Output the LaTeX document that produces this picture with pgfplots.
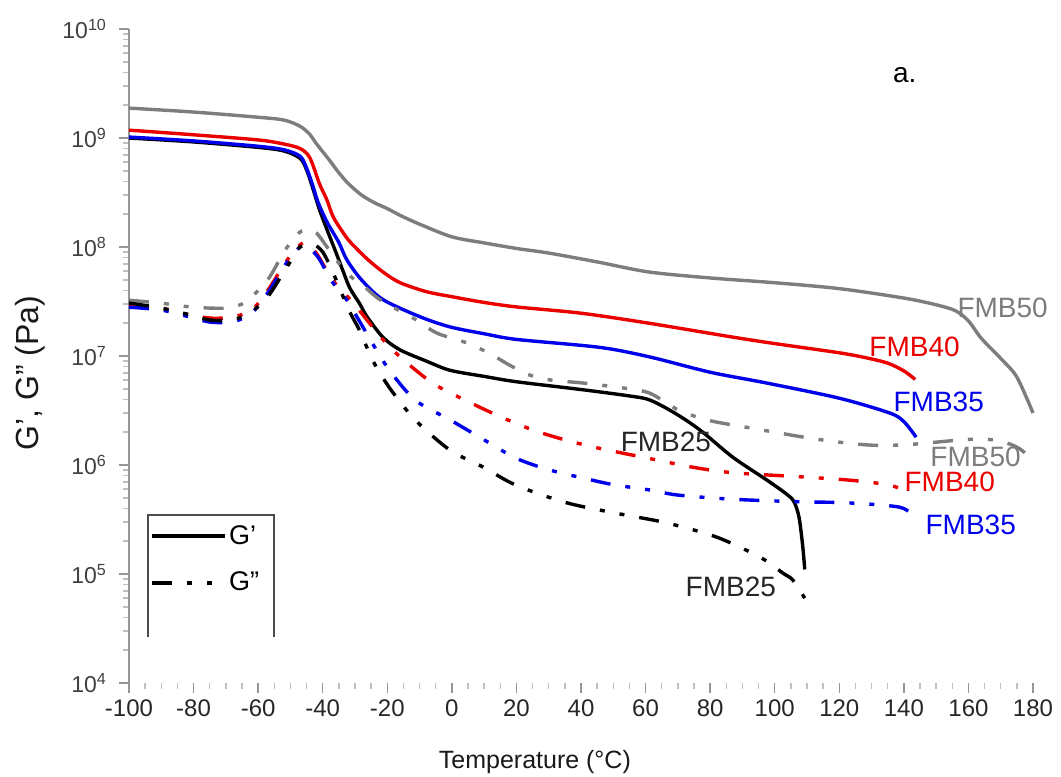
\documentclass[border=0pt]{standalone}
\usepackage{fontspec}
\setmainfont{Liberation Sans}
\usepackage{pgfplots}
\pgfplotsset{compat=1.18}
\definecolor{cgray}{RGB}{125,125,125}
\definecolor{cred}{RGB}{235,0,0}
\definecolor{cblue}{RGB}{0,0,235}
\definecolor{axgray}{RGB}{150,150,150}
\tikzset{gpp/.style={dash pattern=on 10pt off 7.5pt on 2.5pt off 7.5pt on 2.5pt off 7.5pt}}
\begin{document}
\begin{tikzpicture}
\begin{axis}[
  scale only axis, width=452pt, height=327pt,
  xmin=-100, xmax=180, ymin=1e4, ymax=1e10, ymode=log,
  clip=false,
  axis x line*=bottom, axis y line*=left,
  axis line style={-, draw=axgray, line width=0.9pt},
  x axis line style={draw=none},
  tick align=outside,
  xtick={-100,-80,...,180},
  xticklabels={-100,-80,-60,-40,-20,0,20,40,60,80,100,120,140,160,180},
  minor x tick num=3,
  ytick={1e4,1e5,1e6,1e7,1e8,1e9,1e10},
  yticklabels={10\textsuperscript{4},10\textsuperscript{5},10\textsuperscript{6},10\textsuperscript{7},10\textsuperscript{8},10\textsuperscript{9},10\textsuperscript{10}},
  major tick length=5pt, minor tick length=3pt,
  tick style={draw=axgray, line width=0.7pt},
  minor tick style={draw=axgray!60},
  xticklabel style={font=\fontsize{12}{14}\selectfont, text=black!85},
  yticklabel style={font=\fontsize{11.5}{13}\selectfont, text=black!75, xshift=-2.5pt},
  xlabel={Temperature (°C)},
  xlabel style={at={(rel axis cs:0.449,0)}, yshift=-39.5pt, anchor=center, font=\fontsize{12.5}{15}\selectfont, text=black!90},
  ylabel={G', G'' (Pa)},
  ylabel style={at={([xshift=-49.5pt]rel axis cs:0,0.474)}, anchor=center, font=\fontsize{16}{18}\selectfont, text=black!90},
  legend style={at={(rel axis cs:0.023,0.245)}, anchor=north west, draw=none, fill=none,
    font=\fontsize{13.5}{15}\selectfont, inner sep=0pt, row sep=10.5pt, nodes={inner sep=1pt}},
  legend cell align=left,
  legend image code/.code={\draw[#1, line width=2pt] (0pt,0pt) -- (36.5pt,0pt);},
  every axis plot/.append style={line width=1.7pt, smooth, tension=0.5},
]
\addlegendimage{black}
\addlegendentry{G'}
\addlegendimage{black, gpp}
\addlegendentry{G''}

% FMB25 G'
\addplot[black, forget plot] coordinates {(-100,1.0e9) (-80,9.2e8) (-60,8.2e8) (-52,7.6e8) (-47,6.5e8) (-45,5.1e8) (-43,3.4e8) (-41,2.2e8) (-38.5,1.4e8) (-36.2,9.4e7) (-33.5,5.8e7) (-31.6,4.2e7) (-28.5,3.0e7) (-26.3,2.3e7) (-21.4,1.49e7) (-16.1,1.14e7) (-8,9.0e6) (-0.6,7.4e6) (10,6.5e6) (20.1,5.8e6) (40.6,4.9e6) (55,4.3e6) (61.3,3.95e6) (69,3.0e6) (76.8,2.1e6) (87,1.18e6) (97.5,7.3e5) (103,5.6e5) (105.6,4.8e5) (106.8,4.0e5) (107.7,3.1e5) (108.7,1.77e5) (109.3,1.1e5)};
% FMB50 G'
\addplot[cgray, forget plot] coordinates {(-100,1.88e9) (-80,1.73e9) (-60,1.55e9) (-52,1.46e9) (-47,1.28e9) (-44,1.08e9) (-42,8.9e8) (-38,6.3e8) (-35,4.8e8) (-32,3.8e8) (-28,3.0e8) (-24,2.55e8) (-20,2.25e8) (-16,1.95e8) (-10,1.62e8) (0,1.24e8) (10,1.09e8) (20,9.7e7) (30,8.8e7) (45,7.3e7) (61,5.9e7) (80,5.2e7) (100,4.7e7) (120,4.15e7) (140,3.4e7) (150,2.95e7) (156,2.6e7) (160,2.1e7) (164,1.45e7) (170,9.5e6) (175,6.4e6) (180,3.0e6)};
% FMB40 G'
\addplot[cred, forget plot] coordinates {(-100,1.18e9) (-80,1.07e9) (-60,9.6e8) (-52,8.8e8) (-47,8.0e8) (-44,6.6e8) (-41,3.8e8) (-38.7,2.7e8) (-36.8,1.9e8) (-34,1.4e8) (-31.6,1.12e8) (-26.3,7.8e7) (-21,5.8e7) (-16,4.7e7) (-8,3.9e7) (0,3.5e7) (10,3.1e7) (20,2.82e7) (40,2.47e7) (61,2.0e7) (87,1.49e7) (100,1.3e7) (120,1.07e7) (128.5,9.6e6) (135,8.6e6) (140,7.3e6) (143.5,6.1e6)};
% FMB35 G'
\addplot[cblue, forget plot] coordinates {(-100,1.02e9) (-80,9.4e8) (-60,8.4e8) (-52,7.8e8) (-47,6.8e8) (-45,5.3e8) (-43,3.6e8) (-41.5,2.6e8) (-38.7,1.7e8) (-35,1.1e8) (-32.5,7.6e7) (-28,5.0e7) (-21.4,3.3e7) (-10,2.3e7) (-0.6,1.85e7) (10,1.6e7) (20,1.42e7) (45.8,1.2e7) (61.3,9.8e6) (80,7.1e6) (97.5,5.65e6) (120,4.1e6) (135.6,3.0e6) (140,2.5e6) (143.8,1.8e6)};

% FMB50 G''
\addplot[cgray, gpp, forget plot] coordinates {(-100,3.25e7) (-90,3.05e7) (-80,2.8e7) (-70,2.75e7) (-65,3.0e7) (-62,3.5e7) (-57,5.0e7) (-52,9.0e7) (-48,1.3e8) (-45,1.45e8) (-42,1.35e8) (-38,9.4e7) (-32.6,5.8e7) (-27,4.3e7) (-22,3.25e7) (-11,2.14e7) (-4.6,1.62e7) (4.6,1.32e7) (11.8,1.05e7) (18,8.2e6) (24,6.7e6) (31,6.0e6) (40.6,5.65e6) (55,5.0e6) (61,4.6e6) (66,3.8e6) (71,3.1e6) (80,2.55e6) (90,2.25e6) (100,2.0e6) (110,1.78e6) (120,1.62e6) (130,1.52e6) (140,1.53e6) (150,1.62e6) (160,1.72e6) (168,1.7e6) (173,1.55e6) (176,1.4e6) (179,1.18e6)};
% FMB40 G''
\addplot[cred, gpp, forget plot] coordinates {(-100,2.94e7) (-90,2.75e7) (-84,2.48e7) (-75,2.23e7) (-68,2.28e7) (-62,2.64e7) (-57,4.0e7) (-51,7.6e7) (-46,1.09e8) (-42,8.8e7) (-37,5.0e7) (-30.5,3.06e7) (-22,1.49e7) (-16,9.8e6) (-6,5.65e6) (4,3.95e6) (14.7,2.8e6) (25,2.1e6) (35,1.7e6) (45.8,1.42e6) (61,1.15e6) (75,9.5e5) (87,8.5e5) (107.7,7.8e5) (122.3,7.3e5) (135,6.6e5) (139.6,5.9e5)};
% FMB35 G''
\addplot[cblue, gpp, forget plot] coordinates {(-100,2.8e7) (-90,2.64e7) (-80,2.23e7) (-75,2.05e7) (-68,2.05e7) (-62,2.48e7) (-57,3.8e7) (-51,7.3e7) (-46,1.04e8) (-41.5,8.1e7) (-37.5,5.0e7) (-32.5,3.25e7) (-27,1.73e7) (-20,7.9e6) (-11.4,3.95e6) (-0.6,2.6e6) (10,1.7e6) (20,1.15e6) (30.3,9.0e5) (40.6,7.6e5) (50,6.6e5) (61.3,5.9e5) (70,5.3e5) (87,4.85e5) (107.7,4.6e5) (122.3,4.5e5) (138.7,4.1e5) (143.3,3.3e5)};
% FMB25 G''
\addplot[black, gpp, forget plot] coordinates {(-100,3.06e7) (-90,2.75e7) (-80,2.34e7) (-75,2.14e7) (-68,2.14e7) (-62,2.56e7) (-57,3.5e7) (-51,6.6e7) (-47,1.0e8) (-43,1.05e8) (-40,9.0e7) (-36.8,5.8e7) (-31.9,2.64e7) (-28.5,1.7e7) (-24.5,9.1e6) (-19.3,5.1e6) (-11.4,2.6e6) (-0.6,1.37e6) (9.6,9.6e5) (20,6.5e5) (35.6,4.5e5) (51.1,3.6e5) (66.6,2.94e5) (82,2.18e5) (95.4,1.43e5) (102.5,1.02e5) (105.6,8.8e4) (109.3,6.0e4)};

% curve labels
\tikzset{lbl/.style={font=\fontsize{14}{16}\selectfont, inner sep=0pt}}
\node[lbl, cgray] at (axis cs:170.6,2.75e7) {FMB50};
\node[lbl, cred] at (axis cs:143.3,1.21e7) {FMB40};
\node[lbl, cblue] at (axis cs:150.8,3.79e6) {FMB35};
\node[lbl, cgray] at (axis cs:162.2,1.19e6) {FMB50};
\node[lbl, cred] at (axis cs:154.2,7.0e5) {FMB40};
\node[lbl, cblue] at (axis cs:160.7,2.82e5) {FMB35};
\node[lbl, black!85] at (axis cs:66.3,1.63e6) {FMB25};
\node[lbl, black!85] at (axis cs:86.4,7.6e4) {FMB25};
\node[lbl, black] at (axis cs:140.3,3.8e9) {a.};

% legend frame (open at the bottom)
\draw[black!70, line width=0.9pt] (rel axis cs:0.021,0.0703) -- (rel axis cs:0.021,0.2569) -- (rel axis cs:0.1604,0.2569) -- (rel axis cs:0.1604,0.0703);
\end{axis}
\pgfresetboundingbox
\path[use as bounding box] ([xshift=-64.5pt,yshift=-46.5pt]current axis.south west) rectangle ([xshift=14pt,yshift=14.5pt]current axis.north east);
\end{tikzpicture}
\end{document}
